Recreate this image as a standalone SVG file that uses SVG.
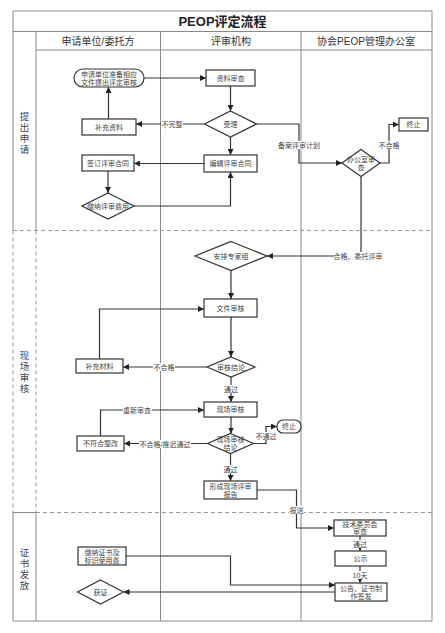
<svg xmlns="http://www.w3.org/2000/svg" width="445" height="633" viewBox="0 0 445 633">
<defs>
<marker id="arr" viewBox="0 0 10 10" refX="10" refY="5" markerWidth="6" markerHeight="6" markerUnits="userSpaceOnUse" orient="auto"><path d="M0,0 L10,5 L0,10 z" fill="#222"/></marker>
<style>
.frame{fill:none;stroke:#888;stroke-width:1}
.dash{fill:none;stroke:#999;stroke-width:1;stroke-dasharray:4,3}
.box{fill:#fff;stroke:#333;stroke-width:1.2}
.t{font-family:"Liberation Sans","Noto Sans CJK SC",sans-serif;font-size:7px;fill:#444;text-anchor:middle}
.h{font-family:"Liberation Sans","Noto Sans CJK SC",sans-serif;font-size:10px;fill:#333;text-anchor:middle}
.lane{font-family:"Liberation Sans","Noto Sans CJK SC",sans-serif;font-size:9.5px;fill:#444;text-anchor:middle}
.title{font-family:"Liberation Sans","Noto Sans CJK SC",sans-serif;font-size:13px;font-weight:bold;fill:#222;text-anchor:middle}
.e{fill:none;stroke:#333;stroke-width:1.2;marker-end:url(#arr)}
.lb{fill:#fff}
</style>
</defs>
<rect width="445" height="633" fill="#fff"/>
<g id="frame">
<line class="frame" x1="13" y1="11" x2="432" y2="11"/>
<line class="frame" x1="13" y1="621" x2="432" y2="621"/>
<line class="frame" x1="432" y1="11" x2="432" y2="621"/>
<line class="frame" x1="13" y1="11" x2="13" y2="230.5"/>
<line class="dash" x1="13" y1="230.5" x2="13" y2="512.5"/>
<line class="frame" x1="13" y1="512.5" x2="13" y2="621"/>
<line class="frame" x1="13" y1="31.5" x2="432" y2="31.5"/>
<line class="frame" x1="36" y1="50" x2="432" y2="50"/>
<line class="frame" x1="36" y1="31.5" x2="36" y2="230.5"/>
<line class="dash" x1="36" y1="230.5" x2="36" y2="512.5"/>
<line class="frame" x1="36" y1="512.5" x2="36" y2="621"/>
<line class="frame" x1="160.5" y1="31.5" x2="160.5" y2="621"/>
<line class="frame" x1="301" y1="31.5" x2="301" y2="621"/>
<line class="dash" x1="13" y1="230.5" x2="432" y2="230.5"/>
<line class="frame" x1="13" y1="512.5" x2="36" y2="512.5"/>
<line class="dash" x1="36" y1="512.5" x2="432" y2="512.5"/>
<text class="title" x="222.5" y="26">PEOP评定流程</text>
<text class="h" x="98" y="44.5">申请单位/委托方</text>
<text class="h" x="231" y="44.5">评审机构</text>
<text class="h" x="366" y="44.5">协会PEOP管理办公室</text>
<text class="lane" x="24.5" y="120">提</text>
<text class="lane" x="24.5" y="131">出</text>
<text class="lane" x="24.5" y="142">申</text>
<text class="lane" x="24.5" y="153">请</text>
<text class="lane" x="24.5" y="359">现</text>
<text class="lane" x="24.5" y="370">场</text>
<text class="lane" x="24.5" y="381">审</text>
<text class="lane" x="24.5" y="392">核</text>
<text class="lane" x="24.5" y="556">证</text>
<text class="lane" x="24.5" y="567">书</text>
<text class="lane" x="24.5" y="578">发</text>
<text class="lane" x="24.5" y="589">放</text>
</g>
<g id="connectors">
<path class="e" d="M144,78 H206"/>
<path class="e" d="M230.5,86 V111"/>
<path class="e" d="M204.5,124 H136"/>
<path class="e" d="M108.5,119 V87"/>
<path class="e" d="M230.5,137 V155"/>
<path class="e" d="M204,163.5 H134"/>
<path class="e" d="M108,171 V193"/>
<path class="e" d="M134,206 H230.5 V172"/>
<path class="e" d="M256.5,124 H299 V163 H342"/>
<path class="e" d="M380,163 H389 V124.5 H399"/>
<path class="e" d="M361,176.5 V256 H267"/>
<path class="e" d="M231,270.5 V299"/>
<path class="e" d="M231,317 V357"/>
<path class="e" d="M207,367 H123"/>
<path class="e" d="M99.5,359 V309 H204"/>
<path class="e" d="M231,377 V402"/>
<path class="e" d="M100.5,436 V410 H204"/>
<path class="e" d="M231,417 V433.5"/>
<path class="e" d="M207.5,443.5 H124"/>
<path class="e" d="M253.5,443.5 H266 V426.5 H277"/>
<path class="e" d="M230.5,453.5 V481"/>
<path class="e" d="M257,490 H296.5 V528 H334"/>
<path class="e" d="M360,536 V551"/>
<path class="e" d="M360,566 V583"/>
<path class="e" d="M126,556 H230.5 V585 H335"/>
<path class="e" d="M335,592 H123.5"/>
<rect class="lb" x="161" y="120" width="22" height="8"/><text class="t" x="172" y="126.5">不完整</text>
<rect class="lb" x="278" y="141" width="42" height="8"/><text class="t" x="299" y="147.5">备案评审计划</text>
<rect class="lb" x="378" y="141" width="22" height="8"/><text class="t" x="389" y="147.5">不合格</text>
<rect class="lb" x="334" y="252" width="49" height="8"/><text class="t" x="358" y="258.5">合格、委托评审</text>
<rect class="lb" x="153" y="363" width="22" height="8"/><text class="t" x="164" y="369.5">不合格</text>
<rect class="lb" x="224" y="385" width="15" height="8"/><text class="t" x="231" y="391.5">通过</text>
<rect class="lb" x="123" y="406" width="29" height="8"/><text class="t" x="137" y="412.5">重新审查</text>
<rect class="lb" x="139" y="440" width="52" height="8"/><text class="t" x="165" y="446.5">不合格/推迟通过</text>
<rect class="lb" x="255" y="432" width="22" height="8"/><text class="t" x="266" y="438.5">不通过</text>
<rect class="lb" x="223" y="465" width="15" height="8"/><text class="t" x="230.5" y="471.5">通过</text>
<rect class="lb" x="289" y="506" width="15" height="8"/><text class="t" x="296.5" y="512.5">报送</text>
<rect class="lb" x="352" y="540" width="16" height="8"/><text class="t" x="360" y="546.5">通过</text>
<rect class="lb" x="352" y="571" width="16" height="8"/><text class="t" x="360" y="577.5">10天</text>
</g>
<g id="n1"><rect class="box" x="74" y="69" width="70" height="18" rx="9"/><text class="t" x="109" y="76.5">申请单位准备相应</text><text class="t" x="109" y="84.5">文件提出评定审核</text></g>
<g id="n2"><rect class="box" x="206" y="70" width="49" height="16"/><text class="t" x="230.5" y="80.5">资料审查</text></g>
<g id="n3"><path class="box" d="M230.5,111 L256.5,124 L230.5,137 L204.5,124 z"/><text class="t" x="230.5" y="126.5">受理</text></g>
<g id="n4"><rect class="box" x="82" y="119" width="54" height="16"/><text class="t" x="109" y="129.5">补充资料</text></g>
<g id="n5"><rect class="box" x="204" y="155" width="53" height="17"/><text class="t" x="230.5" y="166">编辑评审合同</text></g>
<g id="n6"><rect class="box" x="82" y="155" width="52" height="16"/><text class="t" x="108" y="165.5">签订评审合同</text></g>
<g id="n7"><path class="box" d="M108,193 L134,206 L108,219 L82,206 z"/><text class="t" x="108" y="208.5">缴纳评审费用</text></g>
<g id="n8"><path class="box" d="M361,149.5 L380,163 L361,176.5 L342,163 z"/><text class="t" x="361" y="162">办公室审</text><text class="t" x="361" y="170">查</text></g>
<g id="n9"><rect class="box" x="399" y="118" width="29" height="13"/><text class="t" x="413.5" y="127">终止</text></g>
<g id="n10"><path class="box" d="M231,241.5 L267,256 L231,270.5 L195,256 z"/><text class="t" x="231" y="258.5">安排专家组</text></g>
<g id="n11"><rect class="box" x="204" y="299" width="53" height="18"/><text class="t" x="230.5" y="310.5">文件审核</text></g>
<g id="n12"><path class="box" d="M231,357 L255,367 L231,377 L207,367 z"/><text class="t" x="231" y="369.5">审核结论</text></g>
<g id="n13"><rect class="box" x="76" y="359" width="47" height="14"/><text class="t" x="99.5" y="368.5">补充材料</text></g>
<g id="n14"><rect class="box" x="204" y="402" width="53" height="15"/><text class="t" x="230.5" y="412">现场审核</text></g>
<g id="n15"><path class="box" d="M230.5,433.5 L253.5,443.5 L230.5,453.5 L207.5,443.5 z"/><text class="t" x="230.5" y="442">现场审核</text><text class="t" x="230.5" y="450">结论</text></g>
<g id="n16"><rect class="box" x="77" y="436" width="47" height="15"/><text class="t" x="100.5" y="446">不符合整改</text></g>
<g id="n17"><rect class="box" x="277" y="420" width="24" height="13" rx="6"/><text class="t" x="289" y="429">终止</text></g>
<g id="n18"><rect class="box" x="204" y="481" width="53" height="18"/><text class="t" x="230.5" y="488.5">形成现场评审</text><text class="t" x="230.5" y="496.5">报告</text></g>
<g id="n19"><rect class="box" x="334" y="520" width="52" height="16"/><text class="t" x="360" y="526.5">技术委员会</text><text class="t" x="360" y="534">审查</text></g>
<g id="n20"><rect class="box" x="335" y="551" width="51" height="15"/><text class="t" x="360.5" y="561">公示</text></g>
<g id="n21"><rect class="box" x="335" y="583" width="52" height="18"/><text class="t" x="361" y="590.5">公告、证书制</text><text class="t" x="361" y="598.5">作签发</text></g>
<g id="n22"><rect class="box" x="78" y="547" width="48" height="18"/><text class="t" x="102" y="554.5">缴纳证书及</text><text class="t" x="102" y="562.5">标识使用费</text></g>
<g id="n23"><path class="box" d="M100.5,580 L123.5,592 L100.5,604 L77.5,592 z"/><text class="t" x="100.5" y="594.5">获证</text></g>
</svg>
